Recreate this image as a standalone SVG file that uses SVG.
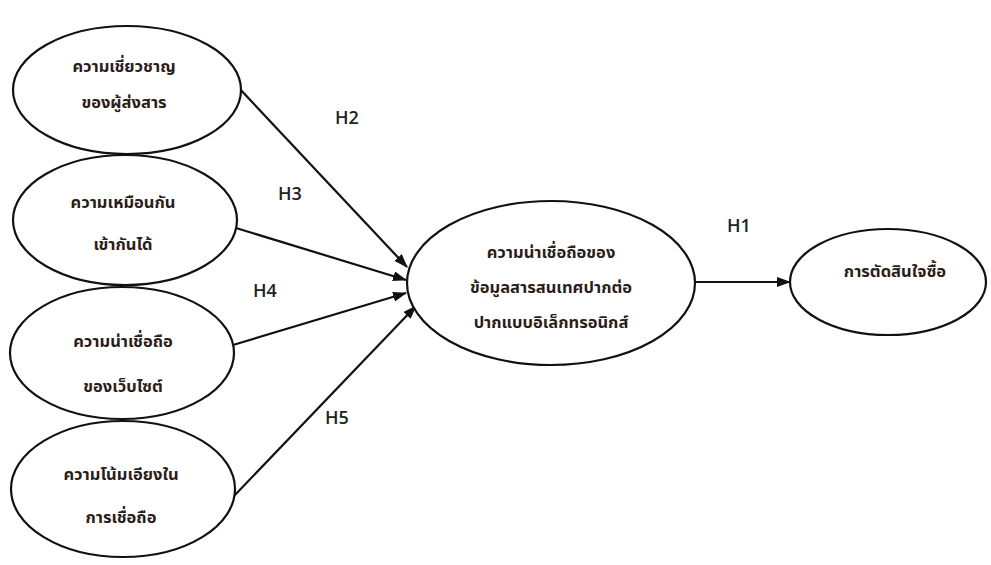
<svg xmlns="http://www.w3.org/2000/svg" width="991" height="565" viewBox="0 0 991 565">
  <style>
    .node { fill: #ffffff; stroke: #111111; stroke-width: 2.2; }
    .th { font-family: "Noto Sans Thai", "Noto Sans", "DejaVu Sans", "Liberation Sans", sans-serif; font-weight: bold; font-size: 16.5px; fill: #2b1d18; text-anchor: middle; }
    .lbl { font-family: "Open Sans", "Liberation Sans", sans-serif; font-weight: 600; font-size: 18px; fill: #222222; text-anchor: middle; }
    .edge { stroke: #111111; stroke-width: 2.2; fill: none; marker-end: url(#arrow); }
  </style>
  <defs>
    <marker id="arrow" markerWidth="14" markerHeight="10" refX="13" refY="5" orient="auto" markerUnits="userSpaceOnUse">
      <path d="M0,0 L14,5 L0,10 Z" fill="#111111"/>
    </marker>
  </defs>
  <rect width="991" height="565" fill="#ffffff"/>

  <g id="connectors">
    <line class="edge" x1="238" y1="87" x2="407" y2="267"/>
    <line class="edge" x1="236" y1="228" x2="406" y2="280"/>
    <line class="edge" x1="233" y1="345" x2="406" y2="293"/>
    <line class="edge" x1="234" y1="496" x2="416" y2="306"/>
    <line class="edge" x1="695" y1="282" x2="790" y2="282"/>
    <text class="lbl" x="347" y="124">H2</text>
    <text class="lbl" x="290" y="200">H3</text>
    <text class="lbl" x="265" y="297">H4</text>
    <text class="lbl" x="337" y="424">H5</text>
    <text class="lbl" x="739" y="232">H1</text>
  </g>

  <g id="expertise">
    <ellipse class="node" cx="127" cy="90" rx="114" ry="64"/>
    <text class="th" x="124" y="72">ความเชี่ยวชาญ</text>
    <text class="th" x="124" y="108">ของผู้ส่งสาร</text>
  </g>

  <g id="similarity">
    <ellipse class="node" cx="125" cy="220" rx="112" ry="65"/>
    <text class="th" x="123" y="208">ความเหมือนกัน</text>
    <text class="th" x="123" y="250">เข้ากันได้</text>
  </g>

  <g id="website-credibility">
    <ellipse class="node" cx="122" cy="353" rx="112" ry="66"/>
    <text class="th" x="123" y="347">ความน่าเชื่อถือ</text>
    <text class="th" x="123" y="392">ของเว็บไซต์</text>
  </g>

  <g id="trust-propensity">
    <ellipse class="node" cx="123" cy="489" rx="112" ry="68"/>
    <text class="th" x="121" y="480">ความโน้มเอียงใน</text>
    <text class="th" x="121" y="523">การเชื่อถือ</text>
  </g>

  <g id="ewom-credibility">
    <ellipse class="node" cx="551" cy="283" rx="144" ry="82"/>
    <text class="th" x="551" y="258">ความน่าเชื่อถือของ</text>
    <text class="th" x="551" y="293">ข้อมูลสารสนเทศปากต่อ</text>
    <text class="th" x="551" y="328">ปากแบบอิเล็กทรอนิกส์</text>
  </g>

  <g id="purchase-decision">
    <ellipse class="node" cx="888" cy="282" rx="98" ry="53"/>
    <text class="th" x="895" y="277">การตัดสินใจซื้อ</text>
  </g>
</svg>
